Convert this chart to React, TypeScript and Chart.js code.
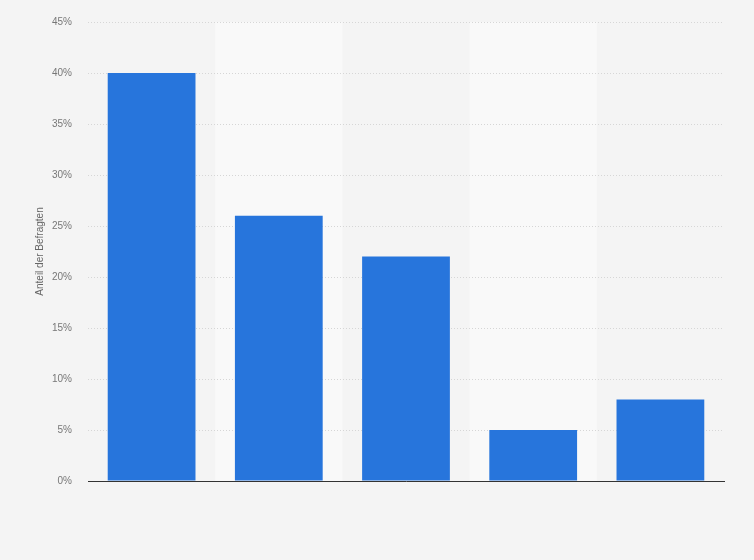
import { useEffect, useRef } from "react"
import { Chart, registerables } from "chart.js"

Chart.register(...registerables)

// Daten (keine Kategorienamen sichtbar)
const categories = ["A", "B", "C", "D", "E"]
const shares = [40, 26, 22, 5, 8]
const yTicks = [0, 5, 10, 15, 20, 25, 30, 35, 40, 45]

// Hellere Hintergrundstreifen hinter jeder zweiten Kategorie
const bandPlugin = {
  id: "bands",
  beforeDraw(chart: Chart) {
    const { ctx, chartArea, scales } = chart
    const x = scales.x
    const step = x.width / categories.length
    ctx.save()
    ctx.fillStyle = "#f9f9f9"
    categories.forEach((_, i) => {
      if (i % 2 === 1) {
        const cx = x.getPixelForValue(i)
        ctx.fillRect(cx - step / 2, chartArea.top, step, chartArea.bottom - chartArea.top)
      }
    })
    ctx.restore()
  },
}

export default function App() {
  const chartRef = useRef<HTMLCanvasElement>(null)
  const chartInstance = useRef<Chart | null>(null)

  useEffect(() => {
    if (!chartRef.current) return
    if (chartInstance.current) chartInstance.current.destroy()

    const ctx = chartRef.current.getContext("2d")
    if (!ctx) return

    chartInstance.current = new Chart(ctx, {
      type: "bar",
      data: {
        labels: categories,
        datasets: [
          {
            data: shares,
            backgroundColor: "#2775dc",
            categoryPercentage: 1,
            barPercentage: 0.69,
          },
        ],
      },
      options: {
        animation: false,
        responsive: false,
        layout: { padding: { left: 30, right: 30, top: 10, bottom: 71 } },
        plugins: {
          legend: { display: false },
          tooltip: { enabled: false },
        },
        scales: {
          x: {
            grid: { display: false },
            ticks: { display: false },
            border: { display: true, color: "#333333", width: 1 },
          },
          y: {
            min: 0,
            max: 45,
            afterBuildTicks: (axis) => {
              axis.ticks = yTicks.map((v) => ({ value: v }))
            },
            afterFit: (axis) => {
              axis.width = 58
            },
            ticks: {
              callback: (v) => v + "%",
              color: "#777777",
              padding: 16,
              font: { family: "Liberation Sans, Arial, sans-serif", size: 10 },
            },
            grid: { color: "#d6d6d6", drawTicks: false },
            border: { display: false, dash: [1, 2] },
            title: {
              display: true,
              text: "Anteil der Befragten",
              color: "#666666",
              font: { family: "Liberation Sans, Arial, sans-serif", size: 10 },
            },
          },
        },
      },
      plugins: [bandPlugin],
    })

    return () => {
      if (chartInstance.current) {
        chartInstance.current.destroy()
        chartInstance.current = null
      }
    }
  }, [])

  return (
    <div style={{ position: "fixed", left: 0, top: 0, width: 754, height: 560, background: "#f4f4f4" }}>
      <canvas ref={chartRef} width={754} height={560}></canvas>
    </div>
  )
}
